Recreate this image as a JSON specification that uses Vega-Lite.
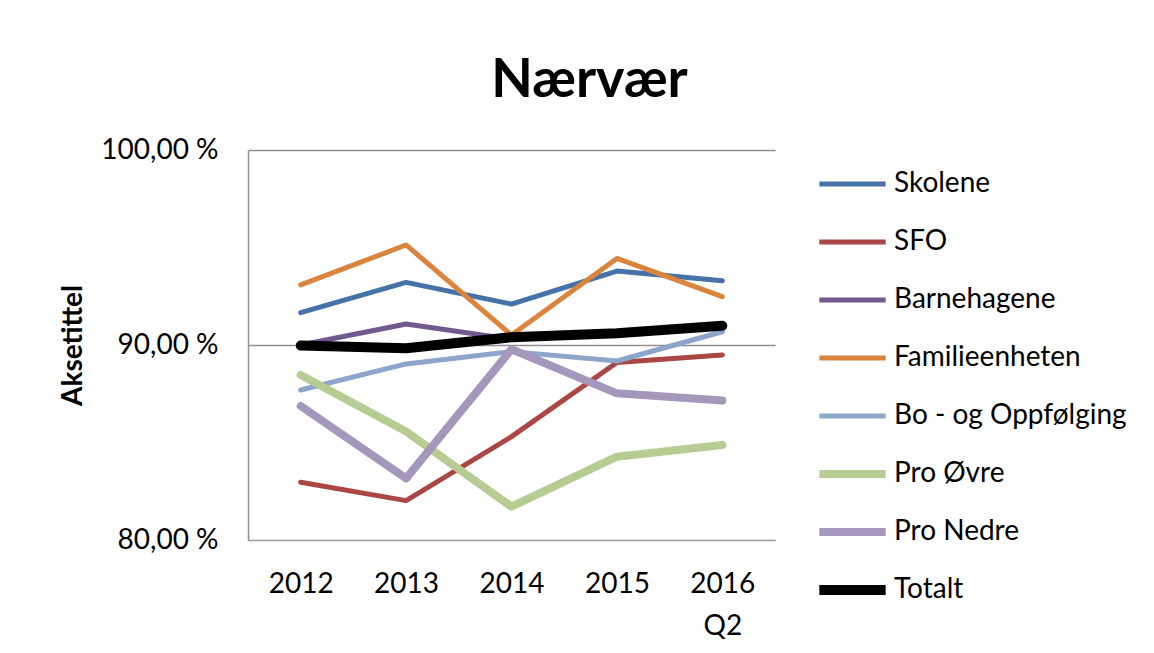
{
  "$schema": "https://vega.github.io/schema/vega-lite/v6.json",
  "autosize": {"type": "none"},
  "width": 527,
  "height": 390,
  "padding": {"left": 248, "top": 150, "right": 379, "bottom": 113},
  "background": "white",
  "title": {
    "text": "Nærvær",
    "font": "Lato",
    "fontSize": 54,
    "fontWeight": "bold",
    "color": "black",
    "anchor": "middle",
    "dx": 78,
    "offset": 28
  },
  "data": {
    "values": [
      {"year": "2012", "series": "Skolene", "value": 91.66},
      {"year": "2013", "series": "Skolene", "value": 93.21},
      {"year": "2014", "series": "Skolene", "value": 92.10},
      {"year": "2015", "series": "Skolene", "value": 93.79},
      {"year": "2016 Q2", "series": "Skolene", "value": 93.30},
      {"year": "2012", "series": "SFO", "value": 82.96},
      {"year": "2013", "series": "SFO", "value": 82.02},
      {"year": "2014", "series": "SFO", "value": 85.30},
      {"year": "2015", "series": "SFO", "value": 89.10},
      {"year": "2016 Q2", "series": "SFO", "value": 89.49},
      {"year": "2012", "series": "Barnehagene", "value": 90.0},
      {"year": "2013", "series": "Barnehagene", "value": 91.08},
      {"year": "2014", "series": "Barnehagene", "value": 90.30},
      {"year": "2015", "series": "Barnehagene", "value": 90.55},
      {"year": "2016 Q2", "series": "Barnehagene", "value": 91.0},
      {"year": "2012", "series": "Familieenheten", "value": 93.08},
      {"year": "2013", "series": "Familieenheten", "value": 95.13},
      {"year": "2014", "series": "Familieenheten", "value": 90.51},
      {"year": "2015", "series": "Familieenheten", "value": 94.44},
      {"year": "2016 Q2", "series": "Familieenheten", "value": 92.48},
      {"year": "2012", "series": "Bo - og Oppfølging", "value": 87.69},
      {"year": "2013", "series": "Bo - og Oppfølging", "value": 89.03},
      {"year": "2014", "series": "Bo - og Oppfølging", "value": 89.66},
      {"year": "2015", "series": "Bo - og Oppfølging", "value": 89.18},
      {"year": "2016 Q2", "series": "Bo - og Oppfølging", "value": 90.68},
      {"year": "2012", "series": "Pro Øvre", "value": 88.46},
      {"year": "2013", "series": "Pro Øvre", "value": 85.56},
      {"year": "2014", "series": "Pro Øvre", "value": 81.71},
      {"year": "2015", "series": "Pro Øvre", "value": 84.27},
      {"year": "2016 Q2", "series": "Pro Øvre", "value": 84.87},
      {"year": "2012", "series": "Pro Nedre", "value": 86.87},
      {"year": "2013", "series": "Pro Nedre", "value": 83.16},
      {"year": "2014", "series": "Pro Nedre", "value": 89.78},
      {"year": "2015", "series": "Pro Nedre", "value": 87.52},
      {"year": "2016 Q2", "series": "Pro Nedre", "value": 87.15},
      {"year": "2012", "series": "Totalt", "value": 89.97},
      {"year": "2013", "series": "Totalt", "value": 89.83},
      {"year": "2014", "series": "Totalt", "value": 90.40},
      {"year": "2015", "series": "Totalt", "value": 90.60},
      {"year": "2016 Q2", "series": "Totalt", "value": 90.99}
    ]
  },
  "mark": {"type": "line", "strokeCap": "round", "strokeJoin": "round"},
  "encoding": {
    "x": {
      "field": "year",
      "type": "ordinal",
      "sort": null,
      "scale": {"type": "point", "padding": 0.5},
      "axis": {
        "title": null,
        "labelAngle": 0,
        "labelFont": "Lato",
        "labelFontSize": 28,
        "labelColor": "black",
        "labelPadding": 52,
        "labelLineHeight": 42,
        "labelBaseline": "alphabetic",
        "labelExpr": "datum.value == '2016 Q2' ? ['2016', 'Q2'] : datum.value",
        "ticks": false,
        "domainColor": "#A0A0A0",
        "domainWidth": 1,
        "grid": false
      }
    },
    "y": {
      "field": "value",
      "type": "quantitative",
      "scale": {"domain": [80, 100], "zero": false, "nice": false},
      "axis": {
        "title": "Aksetittel",
        "titleFont": "Lato",
        "titleFontSize": 28,
        "titleFontWeight": "bold",
        "titleColor": "black",
        "titlePadding": 13,
        "values": [80, 90, 100],
        "labelExpr": "replace(format(datum.value, '.2f'), '.', ',') + ' %'",
        "labelFont": "Lato",
        "labelFontSize": 28,
        "labelColor": "black",
        "labelPadding": 30,
        "ticks": false,
        "domainColor": "#909090",
        "domainWidth": 1.5,
        "grid": true,
        "gridColor": "#909090",
        "gridWidth": 1.5
      }
    },
    "color": {
      "field": "series",
      "type": "nominal",
      "scale": {
        "domain": ["Skolene", "SFO", "Barnehagene", "Familieenheten", "Bo - og Oppfølging", "Pro Øvre", "Pro Nedre", "Totalt"],
        "range": ["#4572A7", "#AA4643", "#71588F", "#DB843D", "#8EA5CB", "#B7CC92", "#A596BC", "#000000"]
      },
      "legend": {
        "title": null,
        "orient": "none",
        "legendX": 566,
        "legendY": 20,
        "padding": 0,
        "symbolType": "stroke",
        "symbolSize": 4400,
        "clipHeight": 28,
        "rowPadding": 30,
        "labelOffset": 3,
        "labelFont": "Lato",
        "labelFontSize": 28,
        "labelColor": "black",
        "labelLimit": 400
      }
    },
    "strokeWidth": {
      "field": "series",
      "type": "nominal",
      "scale": {
        "type": "ordinal",
        "domain": ["Skolene", "SFO", "Barnehagene", "Familieenheten", "Bo - og Oppfølging", "Pro Øvre", "Pro Nedre", "Totalt"],
        "range": [5, 5, 5, 5, 5, 8, 8, 10]
      },
      "legend": {
        "title": null,
        "orient": "none",
        "legendX": 566,
        "legendY": 20,
        "padding": 0,
        "symbolType": "stroke",
        "symbolSize": 4400,
        "clipHeight": 28,
        "rowPadding": 30,
        "labelOffset": 3,
        "labelFont": "Lato",
        "labelFontSize": 28,
        "labelColor": "black",
        "labelLimit": 400
      }
    }
  },
  "config": {
    "view": {"stroke": null}
  }
}
